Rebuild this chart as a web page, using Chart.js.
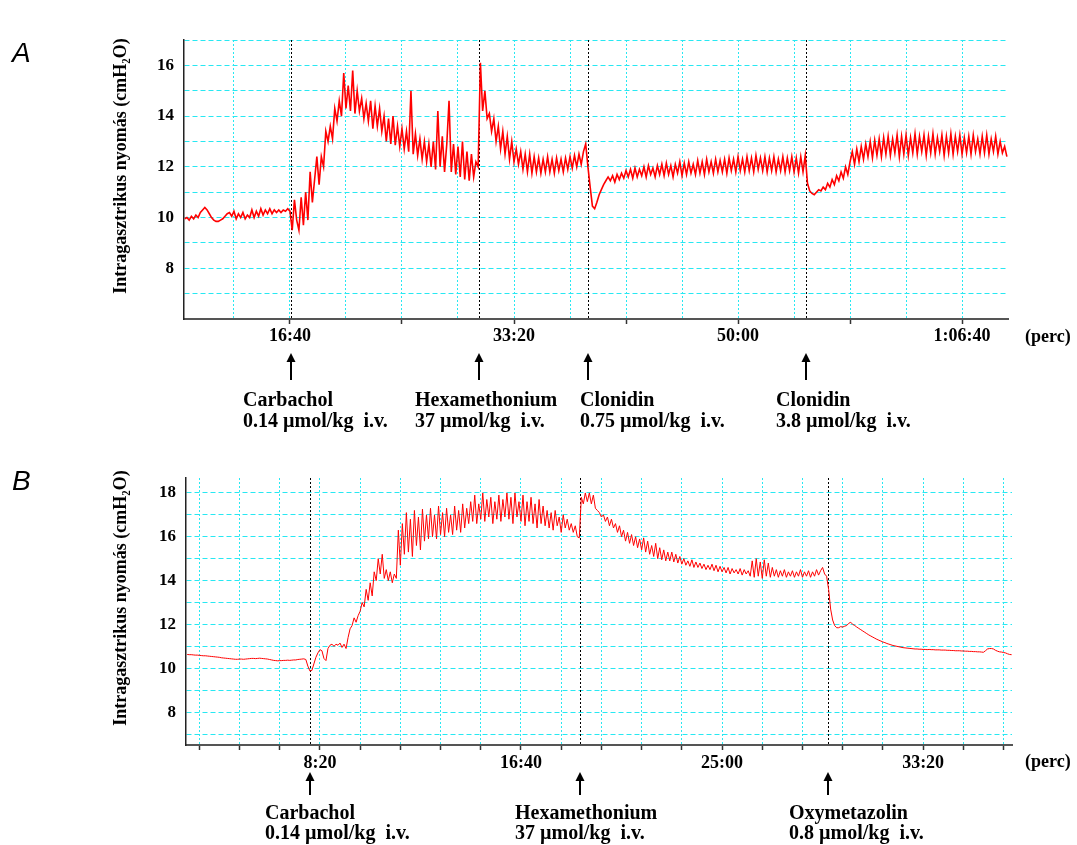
<!DOCTYPE html>
<html><head><meta charset="utf-8">
<script src="https://cdn.jsdelivr.net/npm/chart.js@4.4.1/dist/chart.umd.min.js"></script>
<style>
html,body{margin:0;padding:0;background:#fff;width:1077px;height:845px;overflow:hidden}
#wrapA{position:absolute;left:0;top:0;width:1077px;height:440px}
#wrapB{position:absolute;left:0;top:440px;width:1077px;height:405px}
canvas{display:block}
</style></head><body>
<div id="wrapA"><canvas id="chartA" width="1077" height="440"></canvas></div>
<div id="wrapB"><canvas id="chartB" width="1077" height="405"></canvas></div>
<script>
// ---------------- DATA ----------------
// Panel A: intragastric pressure (cmH2O), one reading every 10 s starting at 530 s
const startTimeA = 530;
const stepA = 10;
const pressureA = [
  9.95, 10.0, 9.9, 10.05, 9.95, 10.1, 10.0, 10.2, 10.3, 10.4,
  10.3, 10.15, 10.0, 9.9, 9.85, 9.85, 9.9, 9.95, 10.05, 10.15,
  10.2, 10.05, 10.25, 9.95, 10.15, 10.0, 10.2, 9.95, 10.1, 10.0,
  10.3, 10.0, 10.25, 10.05, 10.35, 10.1, 10.3, 10.15, 10.35, 10.15,
  10.3, 10.2, 10.3, 10.2, 10.3, 10.25, 10.35, 10.25, 9.5, 10.7,
  9.9, 9.5, 10.8, 9.7, 11.0, 9.9, 11.8, 10.6, 11.5, 12.4,
  11.3, 12.4, 12.0, 13.4, 13.0, 13.6, 13.1, 14.3, 13.8, 14.6,
  14.0, 15.7, 14.3, 15.2, 14.2, 15.8, 14.1, 15.0, 14.2, 14.7,
  13.9, 14.5, 13.8, 14.6, 13.5, 14.4, 13.6, 14.3, 13.4, 14.0,
  13.0, 13.9, 12.9, 14.0, 12.85, 13.6, 12.8, 13.5, 12.7, 13.4,
  12.6, 15.0, 12.5, 13.3, 12.45, 13.1, 12.3, 13.0, 12.2, 12.9,
  12.0, 13.0, 11.9, 14.2, 12.0, 13.2, 11.8, 12.9, 14.6, 11.8,
  12.9, 11.7, 12.8, 11.6, 13.0, 11.5, 12.6, 11.45, 12.5, 11.6,
  12.2, 12.0, 16.1, 14.2, 15.0, 13.9, 14.1, 13.4, 13.9, 13.0,
  13.6, 12.7, 13.4, 12.5, 13.2, 12.3, 13.0, 12.2, 12.7, 12.1,
  12.6, 11.9, 12.5, 11.8, 12.5, 11.75, 12.4, 11.8, 12.35, 11.75,
  12.3, 11.8, 12.4, 11.8, 12.3, 11.75, 12.35, 11.85, 12.3, 11.8,
  12.35, 11.9, 12.4, 11.95, 12.45, 12.0, 12.5, 12.1, 12.6, 12.9,
  12.0, 11.2, 10.45, 10.35, 10.6, 10.9, 11.1, 11.3, 11.45, 11.6,
  11.45, 11.65, 11.4, 11.7, 11.5, 11.75, 11.55, 11.85, 11.6, 11.9,
  11.55, 11.95, 11.6, 11.9, 11.65, 12.0, 11.6, 12.05, 11.7, 11.95,
  11.6, 12.05, 11.7, 12.1, 11.65, 12.15, 11.7, 12.05, 11.6, 12.1,
  11.75, 12.2, 11.65, 12.15, 11.7, 12.2, 11.75, 12.1, 11.7, 12.25,
  11.75, 12.2, 11.7, 12.3, 11.8, 12.2, 11.75, 12.3, 11.8, 12.25,
  11.8, 12.3, 11.75, 12.35, 11.85, 12.3, 11.8, 12.4, 11.85, 12.3,
  11.8, 12.4, 11.85, 12.35, 11.8, 12.45, 11.9, 12.35, 11.85, 12.4,
  11.8, 12.35, 11.85, 12.4, 11.8, 12.3, 11.85, 12.4, 11.8, 12.35,
  11.85, 12.4, 11.8, 12.35, 11.75, 12.4, 11.8, 12.45, 11.35, 11.05,
  10.95, 10.9, 11.0, 11.1, 11.05, 11.2, 11.1, 11.35, 11.2, 11.5,
  11.3, 11.65, 11.45, 11.8, 11.55, 12.0, 11.7, 12.2, 12.6, 12.1,
  12.7, 12.2, 12.8, 12.3, 12.9, 12.4, 13.0, 12.35, 13.05, 12.45,
  13.1, 12.4, 13.15, 12.5, 13.2, 12.45, 13.1, 12.55, 13.25, 12.4,
  13.2, 12.5, 13.25, 12.45, 13.15, 12.55, 13.3, 12.5, 13.2, 12.6,
  13.25, 12.45, 13.2, 12.55, 13.3, 12.5, 13.15, 12.6, 13.25, 12.45,
  13.2, 12.55, 13.3, 12.5, 13.2, 12.6, 13.25, 12.5, 13.15, 12.55,
  13.2, 12.5, 13.25, 12.6, 13.1, 12.5, 13.2, 12.55, 13.25, 12.5,
  13.1, 12.6, 13.2, 12.5, 13.0, 12.55, 12.8, 12.4
];
// Panel B: one reading every 5 s starting at 170 s
const startTimeB = 170;
const stepB = 5;
const pressureB = [
  10.63, 10.62, 10.62, 10.61, 10.6, 10.6, 10.59, 10.58, 10.57, 10.57, 10.56, 10.55, 10.54, 10.53, 10.52, 10.51, 10.5, 10.48, 10.47, 10.46,
  10.45, 10.44, 10.43, 10.42, 10.41, 10.41, 10.42, 10.42, 10.41, 10.42, 10.43, 10.44, 10.45, 10.45, 10.44, 10.45, 10.46, 10.45, 10.44, 10.43,
  10.42, 10.4, 10.38, 10.36, 10.35, 10.34, 10.35, 10.35, 10.36, 10.36, 10.37, 10.36, 10.37, 10.38, 10.38, 10.4, 10.41, 10.42, 10.43, 10.4,
  10.1, 9.88, 9.9, 10.2, 10.5, 10.7, 10.85, 10.8, 10.45, 10.35, 10.9, 11.05, 11.1, 11.0, 11.1, 11.05, 11.15, 10.95, 11.1, 10.9,
  11.4, 11.8, 11.95, 12.3, 12.1, 12.4, 12.6, 13.0, 12.8, 13.6, 13.1, 13.9, 13.3, 14.4, 14.0, 15.0, 14.3, 15.2, 14.1, 14.5,
  14.0, 14.4, 13.9, 14.3, 14.1, 16.3, 14.7, 16.6, 15.2, 17.1, 15.3, 16.8, 15.1, 17.2, 15.6, 16.9, 15.4, 17.26, 15.8, 17.0,
  15.9, 17.3, 16.0, 17.0, 15.9, 17.4, 16.1, 17.1, 16.0, 17.3, 16.2, 17.0, 16.1, 17.4, 16.3, 17.2, 16.2, 17.5, 16.4, 17.3,
  16.6, 17.6, 16.7, 17.9, 16.6, 17.5, 16.8, 18.0, 16.7, 17.7, 16.9, 17.8, 16.6, 17.6, 16.8, 17.9, 16.7, 17.7, 16.9, 18.0,
  16.8, 17.8, 16.6, 18.0, 16.9, 17.6, 16.7, 17.9, 16.5, 17.6, 16.7, 17.8, 16.6, 17.5, 16.4, 17.7, 16.6, 17.4, 16.5, 17.2,
  16.4, 17.1, 16.3, 17.2, 16.5, 16.9, 16.2, 17.0, 16.4, 16.8, 16.3, 16.6, 16.2, 16.5, 16.0, 15.95, 17.8, 17.5, 18.0, 17.6,
  18.0, 17.5, 17.9, 17.3, 17.2, 17.1, 16.9, 17.0, 16.7, 16.9, 16.5, 16.8, 16.4, 16.6, 16.2, 16.5, 16.0, 16.3, 15.8, 16.2,
  15.7, 16.1, 15.6, 16.0, 15.5, 15.9, 15.4, 15.95, 15.3, 15.8, 15.2, 15.6, 15.1, 15.7, 15.0, 15.5, 14.95, 15.4, 14.9, 15.3,
  14.9, 15.3, 14.85, 15.2, 14.8, 15.1, 14.75, 15.0, 14.7, 14.9, 14.65, 14.95, 14.6, 14.85, 14.6, 14.8, 14.55, 14.75, 14.5, 14.7,
  14.5, 14.75, 14.45, 14.7, 14.4, 14.65, 14.4, 14.6, 14.35, 14.6, 14.3, 14.55, 14.35, 14.5, 14.3, 14.55, 14.25, 14.5, 14.3, 14.45,
  14.2, 14.9, 14.15, 15.0, 14.2, 14.85, 14.1, 14.95, 14.2, 14.8, 14.15, 14.6, 14.2, 14.5, 14.15, 14.45, 14.2, 14.5, 14.15, 14.4,
  14.2, 14.45, 14.15, 14.4, 14.2, 14.5, 14.15, 14.4, 14.2, 14.45, 14.15, 14.4, 14.2, 14.5, 14.25, 14.45, 14.6, 14.3, 14.2, 13.6,
  12.7, 12.2, 11.95, 11.85, 11.85, 11.9, 11.88, 11.92, 11.95, 12.05, 12.1, 12.0, 11.95, 11.88, 11.82, 11.76, 11.7, 11.64, 11.58, 11.52,
  11.47, 11.42, 11.37, 11.32, 11.28, 11.24, 11.2, 11.17, 11.13, 11.1, 11.07, 11.04, 11.02, 11.0, 10.98, 10.96, 10.94, 10.93, 10.92, 10.91,
  10.9, 10.89, 10.88, 10.88, 10.87, 10.87, 10.86, 10.86, 10.85, 10.86, 10.85, 10.85, 10.84, 10.84, 10.84, 10.83, 10.83, 10.83, 10.82, 10.82,
  10.81, 10.81, 10.8, 10.8, 10.8, 10.79, 10.79, 10.78, 10.78, 10.77, 10.77, 10.76, 10.76, 10.75, 10.75, 10.74, 10.73, 10.8, 10.88, 10.9,
  10.9, 10.88, 10.82, 10.78, 10.75, 10.74, 10.72, 10.7, 10.66, 10.63, 10.62
];

// axes
const xRangeA = [527, 4205];
const xRangeB = [167, 2221];
const yRangeA = [6, 17];
const yRangeB = [6.5, 18.68];
const xGridA = [750, 1000, 1250, 1500, 1750, 2000, 2250, 2500, 2750, 3000, 3250, 3500, 3750, 4000];
const xLabelTimesA = [1000, 2000, 3000, 4000];
const xLabelTextA = ['16:40', '33:20', '50:00', '1:06:40'];
const xGridB = [200, 300, 400, 500, 600, 700, 800, 900, 1000, 1100, 1200, 1300, 1400, 1500, 1600, 1700, 1800, 1900, 2000, 2100, 2200];
const xLabelTimesB = [500, 1000, 1500, 2000];
const xLabelTextB = ['8:20', '16:40', '25:00', '33:20'];
const yGridA = [7, 8, 9, 10, 11, 12, 13, 14, 15, 16, 17];
const yLabelsA = [8, 10, 12, 14, 16];
const yGridB = [7, 8, 9, 10, 11, 12, 13, 14, 15, 16, 17, 18];
const yLabelsB = [8, 10, 12, 14, 16, 18];
const yTitle = 'Intragasztrikus nyomás (cmH\u2082O)';
const xUnit = '(perc)';

// injections
const eventTimesA = [1005, 1844, 2330, 3304];
const eventNamesA = ['Carbachol', 'Hexamethonium', 'Clonidin', 'Clonidin'];
const eventDosesA = ['0.14 µmol/kg  i.v.', '37 µmol/kg  i.v.', '0.75 µmol/kg  i.v.', '3.8 µmol/kg  i.v.'];
const eventTimesB = [475, 1147, 1764];
const eventNamesB = ['Carbachol', 'Hexamethonium', 'Oxymetazolin'];
const eventDosesB = ['0.14 µmol/kg  i.v.', '37 µmol/kg  i.v.', '0.8 µmol/kg  i.v.'];

// ---------------- LAYOUT / STYLE ----------------
const SERIF = '"Liberation Serif", "Times New Roman", serif';
const CYAN = 'rgb(40,232,242)';
const TITLE_SHIFT = '\u00a0\u00a0\u00a0\u00a0\u00a0\u00a0';
const styleA = {
  letter: 'A', letterY: 62, arrowTop: 353, arrowBottom: 380, nameY: 406, doseY: 427,
  textDx: [-48, -64, -8, -30], unitX: 1025, unitY: 337,
  plot: {left: 184, top: 40, right: 1008, bottom: 319}, canvasH: 440, lineW: 1.6, tickPad: 2
};
const styleB = {
  letter: 'B', letterY: 50, arrowTop: 332, arrowBottom: 355, nameY: 379, doseY: 399,
  textDx: [-45, -65, -39], unitX: 1025, unitY: 322,
  plot: {left: 186, top: 38, right: 1012, bottom: 305}, canvasH: 405, lineW: 1, tickPad: 3
};

function annotationPlugin(st, times, names, doses) {
  return {
    id: 'annot' + st.letter,
    beforeDatasetsDraw(chart) {
      const {ctx, chartArea, scales} = chart;
      ctx.save();
      ctx.strokeStyle = '#000';
      ctx.lineWidth = 1;
      ctx.setLineDash([2, 2]);
      times.forEach(t => {
        const x = Math.round(scales.x.getPixelForValue(t)) + 0.5;
        ctx.beginPath();
        ctx.moveTo(x, chartArea.top);
        ctx.lineTo(x, chartArea.bottom);
        ctx.stroke();
      });
      ctx.restore();
    },
    afterDraw(chart) {
      const {ctx, scales} = chart;
      ctx.save();
      ctx.fillStyle = '#000';
      ctx.font = 'italic 28px "Liberation Sans", Arial, sans-serif';
      ctx.textBaseline = 'alphabetic';
      ctx.textAlign = 'left';
      ctx.fillText(st.letter, 12, st.letterY);
      ctx.font = 'bold 18px ' + SERIF;
      ctx.textBaseline = 'middle';
      ctx.fillText(xUnit, st.unitX, st.unitY);
      times.forEach((t, i) => {
        const x = Math.round(scales.x.getPixelForValue(t));
        ctx.strokeStyle = '#000';
        ctx.lineWidth = 2;
        ctx.setLineDash([]);
        ctx.beginPath();
        ctx.moveTo(x, st.arrowTop + 2);
        ctx.lineTo(x, st.arrowBottom);
        ctx.stroke();
        ctx.beginPath();
        ctx.moveTo(x, st.arrowTop);
        ctx.lineTo(x - 4.5, st.arrowTop + 9);
        ctx.lineTo(x + 4.5, st.arrowTop + 9);
        ctx.closePath();
        ctx.fillStyle = '#000';
        ctx.fill();
        ctx.font = 'bold 20px ' + SERIF;
        ctx.textBaseline = 'alphabetic';
        ctx.textAlign = 'left';
        ctx.fillText(names[i], x + st.textDx[i], st.nameY);
        ctx.fillText(doses[i], x + st.textDx[i], st.doseY);
      });
      ctx.restore();
    }
  };
}

function makeChart(canvasId, st, start, step, values, xRange, yRange, xGrid, xLabTimes, xLabText, yGrid, yLabels, evT, evN, evD) {
  const points = values.map((v, i) => ({x: start + i * step, y: v}));
  const plot = st.plot;
  const xTickEvery = st.letter === 'A' ? 500 : 100;
  return new Chart(document.getElementById(canvasId), {
    type: 'line',
    data: {datasets: [{
      data: points, borderColor: '#ff0000', borderWidth: st.lineW,
      pointRadius: 0, tension: 0, fill: false
    }]},
    options: {
      responsive: false, animation: false, parsing: false,
      events: [],
      layout: {padding: {left: 0, top: plot.top, right: 1077 - plot.right, bottom: 0}},
      plugins: {legend: {display: false}, tooltip: {enabled: false}, title: {display: false}},
      scales: {
        x: {
          type: 'linear', min: xRange[0], max: xRange[1],
          afterBuildTicks: s => { s.ticks = xGrid.map(v => ({value: v})); },
          afterFit: s => { s.height = st.canvasH - plot.bottom; s.paddingLeft = 0; s.paddingRight = 0; },
          ticks: {
            autoSkip: false, maxRotation: 0, minRotation: 0, padding: st.tickPad, color: '#000',
            font: {family: SERIF, size: 18, weight: 'bold'},
            callback: v => { const k = xLabTimes.indexOf(v); return k >= 0 ? xLabText[k] : ''; }
          },
          grid: {
            color: CYAN, lineWidth: 1, drawTicks: true, tickLength: 5, tickWidth: 1.5,
            tickColor: c => (c.tick && c.tick.value % xTickEvery === 0) ? '#333' : 'rgba(0,0,0,0)'
          },
          border: {display: true, color: '#555', width: 2, dash: [2, 2]}
        },
        y: {
          type: 'linear', min: yRange[0], max: yRange[1],
          afterBuildTicks: s => { s.ticks = yGrid.map(v => ({value: v})); },
          afterFit: s => { s.width = plot.left; s.paddingTop = 0; s.paddingBottom = 0; },
          ticks: {
            autoSkip: false, padding: 10, color: '#000',
            font: {family: SERIF, size: 17, weight: 'bold'},
            callback: v => yLabels.includes(v) ? String(v) : ''
          },
          grid: {color: CYAN, lineWidth: 1, drawTicks: false},
          border: {display: true, color: '#222', width: 1.5, dash: [5, 3]},
          title: {
            display: true, text: TITLE_SHIFT + yTitle, color: '#000',
            font: {family: SERIF, size: 18, weight: 'bold'},
            padding: {top: 111, bottom: 0}
          }
        }
      }
    },
    plugins: [annotationPlugin(st, evT, evN, evD)]
  });
}

makeChart('chartA', styleA, startTimeA, stepA, pressureA, xRangeA, yRangeA, xGridA, xLabelTimesA, xLabelTextA, yGridA, yLabelsA, eventTimesA, eventNamesA, eventDosesA);
makeChart('chartB', styleB, startTimeB, stepB, pressureB, xRangeB, yRangeB, xGridB, xLabelTimesB, xLabelTextB, yGridB, yLabelsB, eventTimesB, eventNamesB, eventDosesB);
</script>
</body></html>
